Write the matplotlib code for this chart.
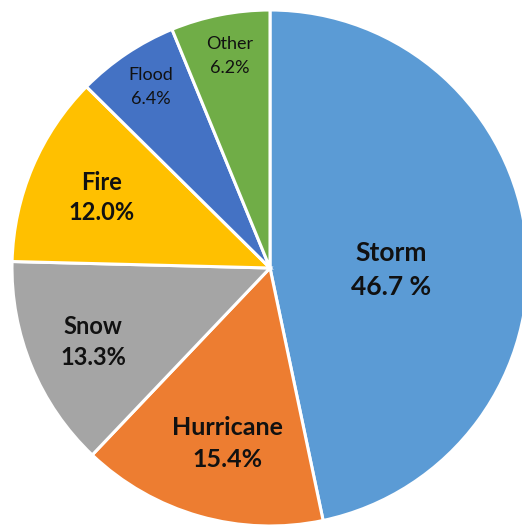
import matplotlib
matplotlib.use("Agg")
import matplotlib.pyplot as plt

categories = ["Storm", "Hurricane", "Snow", "Fire", "Flood", "Other"]
shares = [46.7, 15.4, 13.3, 12.0, 6.4, 6.2]
colors = ["#5B9BD5", "#ED7D31", "#A5A5A5", "#FFC000", "#4472C4", "#70AD47"]

# label anchor points (pie units) and styling for each wedge
label_xy = [(0.469, -0.008), (-0.165, -0.682), (-0.686, -0.285),
            (-0.652, 0.275), (-0.462, 0.70), (-0.157, 0.82)]
label_size = [19, 18, 17, 17, 13, 13]
label_weight = ["bold", "bold", "bold", "bold", "normal", "normal"]
line_gap = [0.132, 0.124, 0.12, 0.116, 0.093, 0.093]

fig = plt.figure(figsize=(5.22, 5.27), dpi=100)
ax = fig.add_axes([12 / 522, 1 / 527, 516 / 522, 516 / 527])

ax.pie(shares, colors=colors, startangle=90, counterclock=False, radius=1.0,
       wedgeprops=dict(edgecolor="white", linewidth=2.2))
ax.set_xlim(-1, 1)
ax.set_ylim(-1, 1)
ax.set_aspect("equal")
ax.axis("off")

for name, val, (x, y), fs, fw, g in zip(categories, shares, label_xy,
                                        label_size, label_weight, line_gap):
    ax.text(x, y + g / 2, name, ha="center", va="center", fontsize=fs,
            fontweight=fw, family="Lato", color="#111111")
    pct = f"{val:.1f} %" if name == "Storm" else f"{val:.1f}%"
    ax.text(x, y - g / 2, pct, ha="center", va="center", fontsize=fs,
            fontweight=fw, family="Lato", color="#111111")

fig.savefig("out.png", dpi=100)
